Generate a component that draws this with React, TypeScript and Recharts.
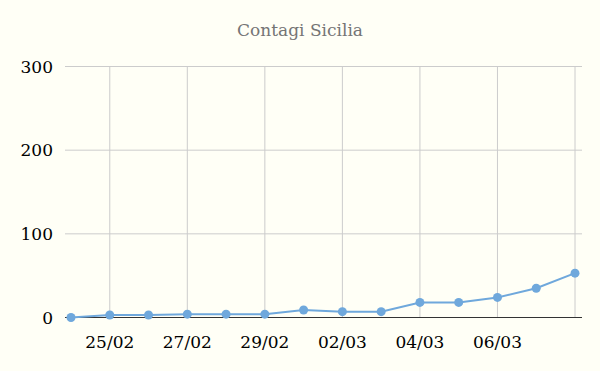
import { LineChart, Line, XAxis, YAxis, ReferenceLine } from "recharts";

const days = [
  "24/02", "25/02", "26/02", "27/02", "28/02", "29/02", "01/03",
  "02/03", "03/03", "04/03", "05/03", "06/03", "07/03", "08/03",
];
const contagi = [0, 3, 3, 4, 4, 4, 9, 7, 7, 18, 18, 24, 35, 53];
const xTicks = ["25/02", "27/02", "29/02", "02/03", "04/03", "06/03", "08/03"];
const hiddenLabels = ["08/03"];
const yTicks = [0, 100, 200, 300];

const data = days.map((d, i) => ({ day: d, contagi: contagi[i] }));

const font = "'DejaVu Serif', Georgia, serif";

const XTick = (props: any) => {
  const { x, y, payload } = props;
  if (hiddenLabels.includes(payload.value)) return null;
  return (
    <text x={x} y={y} dy={16} textAnchor="middle" fill="#000" fontSize={17} fontFamily={font}>
      {payload.value}
    </text>
  );
};

export default function App() {
  return (
    <div style={{ position: "absolute", left: 0, top: 0, width: 600, height: 371, background: "#fffff6" }}>
      <div
        style={{
          position: "absolute",
          top: 20,
          left: 0,
          width: 600,
          textAlign: "center",
          fontFamily: font,
          fontSize: 17,
          color: "#757575",
        }}
      >
        Contagi Sicilia
      </div>
      <LineChart
        width={600}
        height={371}
        data={data}
        margin={{ top: 66.5, right: 18, left: 9, bottom: 23.5 }}
      >
        {yTicks.slice(1).map((t) => (
          <ReferenceLine key={"h" + t} y={t} stroke="#cccccc" strokeWidth={1} />
        ))}
        {xTicks.map((t) => (
          <ReferenceLine key={t} x={t} stroke="#cccccc" strokeWidth={1} />
        ))}
        <XAxis
          dataKey="day"
          ticks={xTicks}
          interval={0}
          tick={<XTick />}
          tickLine={false}
          axisLine={false}
          tickSize={0}
          tickMargin={14}
          height={30}
          padding={{ left: 6, right: 7 }}
        />
        <YAxis
          domain={[0, 300]}
          ticks={yTicks}
          width={56}
          tickLine={false}
          axisLine={false}
          tickSize={0}
          tickMargin={12}
          tick={{ fill: "#000", fontSize: 17, fontFamily: font }}
        />
        <ReferenceLine y={0} stroke="#333333" strokeWidth={1} />
        <Line
          type="linear"
          dataKey="contagi"
          stroke="#6fa8dc"
          strokeWidth={2}
          dot={{ r: 4.5, fill: "#6fa8dc", stroke: "#6fa8dc", strokeWidth: 0 }}
          isAnimationActive={false}
        />
      </LineChart>
    </div>
  );
}
